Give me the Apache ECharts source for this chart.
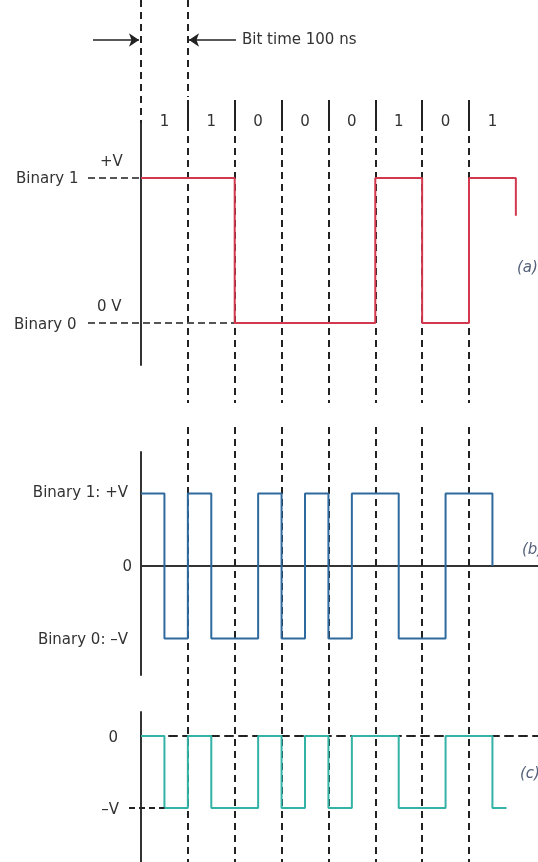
<!DOCTYPE html>
<html><head><meta charset="utf-8">
<style>html,body{margin:0;padding:0;background:#fff}#c{width:538px;height:862px}</style>
<script src="https://cdn.jsdelivr.net/npm/echarts@6/dist/echarts.min.js"></script>
</head><body><div id="c"></div>
<script>
// ---------- data ----------
const bits = [1, 1, 0, 0, 0, 1, 0, 1];
const bitLabels = ['1', '1', '0', '0', '0', '1', '0', '1'];
const bitTimeText = 'Bit time 100 ns';
// (a) NRZ levels (+V = 1, 0 V = 0)
const nrzLevel = { 1: 1, 0: 0 };
const nrzEnd = 8;          // drawn up to end of bit 8
const nrzTail = 0.74;      // last edge only partly drawn
// (b) bipolar Manchester: [first half, second half]
const bipolarHalves = { 1: [1, -1], 0: [-1, 1] };
const bipolarEnd = 7.5;    // trace stops mid-bit
const bipolarTail = 0;     // ...and returns to the zero line
// (c) unipolar Manchester (0 / -V)
const unipolarHalves = { 1: [0, -1], 0: [-1, 0] };
const unipolarEnd = 7.8;
// axis labels
const labelsA = { one: 'Binary 1', zero: 'Binary 0', plusV: '+V', zeroV: '0 V', tag: '(a)' };
const labelsB = { one: 'Binary 1: +V', zero: 'Binary 0: \u2013V', mid: '0', tag: '(b)' };
const labelsC = { top: '0', low: '\u2013V', tag: '(c)' };

// ---------- helpers ----------
function nrz(b) { const p = []; b.forEach((v, i) => { p.push([i, nrzLevel[v]], [i + 1, nrzLevel[v]]); }); return p; }
function manchester(b, halves) {
  const p = [];
  b.forEach((v, i) => { const h = halves[v]; p.push([i, h[0]], [i + 0.5, h[0]], [i + 0.5, h[1]], [i + 1, h[1]]); });
  return p;
}
function cut(p, xEnd, tail) {
  const r = p.filter(q => q[0] < xEnd);
  r.push([xEnd, r[r.length - 1][1]]);
  if (tail !== undefined) r.push([xEnd, tail]);
  return r;
}

// ---------- layout ----------
const W = 538, H = 862;
const X0 = 141;                 // time origin (px)
const BW = 328 / 7;             // one bit time (px)
const XMAX = (W - X0) / BW;
const px = v => (v - X0) / BW;  // layout px -> bit units (for decorations only)

const chart = echarts.init(document.getElementById('c'), null, { renderer: 'canvas' });
const FONT = 'DejaVu Sans';
const TXT = '#333333';
const DASH = '#222222';
const LEAD = '#555555';

const vDash = [], vSolid = [];
bits.forEach((_, i) => {
  if (i === 0) { vDash.push({ coords: [[0, 0], [0, 123]] }); return; }
  if (i === 1) vDash.push({ coords: [[1, 0], [1, 97]] });
  vSolid.push({ coords: [[i, 100], [i, 131]] });
  vDash.push({ coords: [[i, 136], [i, 403]] });
  vDash.push({ coords: [[i, 427], [i, H]] });
});

const xA = (gi, extra) => Object.assign({ type: 'value', gridIndex: gi, min: 0, max: XMAX, show: true,
  axisLine: { show: false }, axisTick: { show: false }, axisLabel: { show: false }, splitLine: { show: false } }, extra || {});
const yA = (gi, min, max, extra) => Object.assign({ type: 'value', gridIndex: gi, min, max,
  axisLine: { show: true, lineStyle: { color: '#333', width: 2 } }, axisTick: { show: false }, axisLabel: { show: false }, splitLine: { show: false } }, extra || {});
const seg = (gi, coords, style, z) => ({ type: 'lines', coordinateSystem: 'cartesian2d', xAxisIndex: gi, yAxisIndex: gi,
  silent: true, clip: false, z: z || 2, lineStyle: Object.assign({ opacity: 1 }, style), data: coords.map(c => ({ coords: c })) });

const option = {
  animation: false,
  backgroundColor: '#fff',
  grid: [
    { left: X0, right: 0, top: 0, bottom: 0 },
    { left: X0, right: 0, top: 123, height: 242 },
    { left: X0, right: 0, top: 452, height: 223 },
    { left: X0, right: 0, top: 712, height: 150 }
  ],
  xAxis: [
    xA(0),
    xA(1),
    xA(2, { axisLine: { show: true, onZero: true, lineStyle: { color: '#333', width: 2 } } }),
    xA(3, { axisLine: { show: true, onZero: true, lineStyle: { color: DASH, width: 2, type: [8, 6] } } })
  ],
  yAxis: [
    { type: 'value', gridIndex: 0, min: 0, max: H, inverse: true, show: false },
    yA(1, -(365 - 323) / 145, (323 - 123) / 145),
    yA(2, -(675 - 566) / 72.5, (566 - 452) / 72.5),
    yA(3, -(862 - 736) / 72, (736 - 712) / 72)
  ],
  series: [
    { type: 'lines', coordinateSystem: 'cartesian2d', xAxisIndex: 0, yAxisIndex: 0, silent: true, z: 1,
      lineStyle: { color: DASH, width: 2, type: [7, 5], opacity: 1 }, data: vDash },
    { type: 'lines', coordinateSystem: 'cartesian2d', xAxisIndex: 0, yAxisIndex: 0, silent: true, z: 1,
      lineStyle: { color: DASH, width: 2, opacity: 1 }, data: vSolid },
    { type: 'lines', coordinateSystem: 'cartesian2d', xAxisIndex: 0, yAxisIndex: 0, silent: true, z: 2, clip: false,
      symbol: ['none', 'arrow'], symbolSize: 10,
      lineStyle: { color: '#222', width: 1.5, opacity: 1 },
      data: [{ coords: [[px(93), 40], [px(139), 40]] }, { coords: [[px(236), 40], [px(189), 40]] }] },
    // (a) level leaders
    seg(1, [[[px(88), nrzLevel[1]], [0, nrzLevel[1]]], [[px(88), nrzLevel[0]], [2, nrzLevel[0]]]],
      { color: LEAD, width: 2, type: [7, 4] }),
    { type: 'line', xAxisIndex: 1, yAxisIndex: 1, symbol: 'none', clip: false, z: 3, silent: true,
      lineStyle: { color: '#d2384e', width: 2 }, data: cut(nrz(bits), nrzEnd, nrzTail) },
    // (b)
    { type: 'line', xAxisIndex: 2, yAxisIndex: 2, symbol: 'none', clip: false, z: 3, silent: true,
      lineStyle: { color: '#2f6a9e', width: 2 }, data: cut(manchester(bits, bipolarHalves), bipolarEnd, bipolarTail) },
    // (c)
    { type: 'line', xAxisIndex: 3, yAxisIndex: 3, symbol: 'none', clip: false, z: 2, silent: true,
      lineStyle: { color: '#33b3a6', width: 2 }, data: cut(manchester(bits, unipolarHalves), unipolarEnd) },
    seg(3, [[[px(129), -1], [0.5, -1]]], { color: DASH, width: 2, type: [6, 4] }, 3)
  ]
};
chart.setOption(option);

// ---------- text, placed from the axes ----------
const P = (gi, x, y) => chart.convertToPixel({ gridIndex: gi }, [x, y]);
const t = (text, x, y, align, extra) => ({ type: 'text', x, y, silent: true, z: 10,
  style: Object.assign({ text, fill: TXT, fontSize: 15, fontFamily: FONT, align: align || 'left', verticalAlign: 'middle' }, extra || {}) });
const tagStyle = { fill: '#55627a', fontStyle: 'italic' };
const g = [];
g.push(t(bitTimeText, 242, 40));
bits.forEach((b, i) => { const p = P(0, i + 0.5, 122); g.push(t(bitLabels[i], p[0], p[1], 'center')); });
const a1 = P(1, 0, 1)[1], a0 = P(1, 0, 0)[1];
g.push(t(labelsA.one, 16, a1 + 1), t(labelsA.plusV, 100, a1 - 16), t(labelsA.zero, 14, a0 + 2), t(labelsA.zeroV, 97, a0 - 16));
g.push(t(labelsA.tag, 517, a0 - 55, 'left', tagStyle));
const b1 = P(2, 0, 1)[1], b0 = P(2, 0, 0)[1], bm = P(2, 0, -1)[1];
g.push(t(labelsB.one, 128, b1, 'right'), t(labelsB.mid, 132, b0 + 1, 'right'), t(labelsB.zero, 128, bm + 2, 'right'));
g.push(t(labelsB.tag, 522, b0 - 16, 'left', tagStyle));
const c0 = P(3, 0, 0)[1], cm = P(3, 0, -1)[1];
g.push(t(labelsC.top, 118, c0 + 2, 'right'), t(labelsC.low, 119, cm + 2, 'right'));
g.push(t(labelsC.tag, 520, (c0 + cm) / 2 + 2, 'left', tagStyle));
chart.setOption({ graphic: g });
</script></body></html>
